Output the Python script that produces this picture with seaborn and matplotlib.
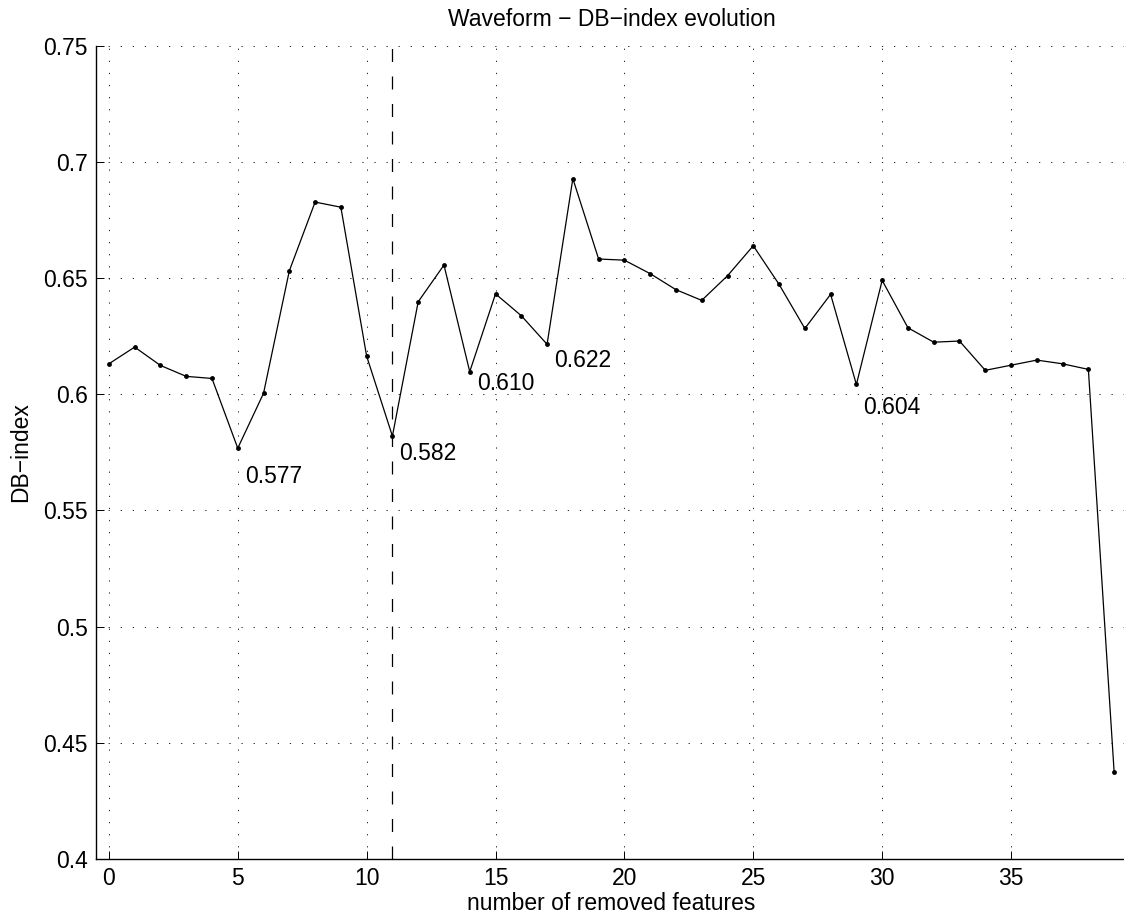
import numpy as np
import pandas as pd
import matplotlib
matplotlib.use("Agg")
import matplotlib.pyplot as plt
import seaborn as sns

# numero de features eliminadas y DB-index
removed = list(range(40))
db_index = [0.6131, 0.6203, 0.6124, 0.6077, 0.6068, 0.5768, 0.6004, 0.6531,
            0.6827, 0.6805, 0.6164, 0.5820, 0.6398, 0.6556, 0.6097, 0.6432,
            0.6338, 0.6215, 0.6928, 0.6582, 0.6577, 0.6519, 0.6450, 0.6404,
            0.6510, 0.6639, 0.6473, 0.6283, 0.6430, 0.6042, 0.6490, 0.6286,
            0.6224, 0.6229, 0.6103, 0.6125, 0.6147, 0.6131, 0.6107, 0.4373]

# minimos locales marcados
min_x = [5, 11, 14, 17, 29]
min_txt = ["0.577", "0.582", "0.610", "0.622", "0.604"]
txt_y = [0.5645, 0.5747, 0.6048, 0.6147, 0.5942]
best_x = 11

sns.set_style("white")
plt.rcParams['font.family'] = ['Liberation Sans', 'DejaVu Sans']
plt.rcParams['axes.unicode_minus'] = True
for k in ["text.color", "axes.labelcolor", "xtick.color", "ytick.color"]:
    plt.rcParams[k] = "black"

df = pd.DataFrame({"removed": removed, "db": db_index})

fig = plt.figure(figsize=(11.24, 9.21), dpi=100)
ax = fig.add_axes([0.0854, 0.0673, 0.9173, 0.8831])

sns.lineplot(data=df, x="removed", y="db", ax=ax, color="black", linewidth=0.9,
             marker="o", markersize=3.5, markeredgewidth=0, markerfacecolor="black")

ax.axvline(best_x, color="black", linewidth=0.9, linestyle=(0, (10.4, 11.6)))

for x, t, y in zip(min_x, min_txt, txt_y):
    ax.text(x + 0.27, y, t, fontsize=16.5, va="center", ha="left")

ax.set_xlim(-0.5, 39.5)
ax.set_ylim(0.4, 0.75)
ax.set_xticks(range(0, 40, 5))
ax.set_yticks(np.arange(0.4, 0.751, 0.05))
ax.set_yticklabels(["0.4", "0.45", "0.5", "0.55", "0.6", "0.65", "0.7", "0.75"])
ax.grid(True, color="black", linewidth=0.6, linestyle=(0, (1.5, 13)))
ax.tick_params(direction="in", length=6, width=0.7, labelsize=16.5, pad=6,
               top=False, right=False, bottom=True, left=True)
ax.spines["top"].set_visible(False)
ax.spines["right"].set_visible(False)
for s in ax.spines.values():
    s.set_color("black")
    s.set_linewidth(1.0)

ax.set_title("Waveform \u2212 DB\u2212index evolution", fontsize=16.5, pad=14)
ax.set_xlabel("number of removed features", fontsize=16.5, labelpad=1)
ax.set_ylabel("DB\u2212index", fontsize=16.5, labelpad=8)

fig.savefig("out.png", dpi=100)
